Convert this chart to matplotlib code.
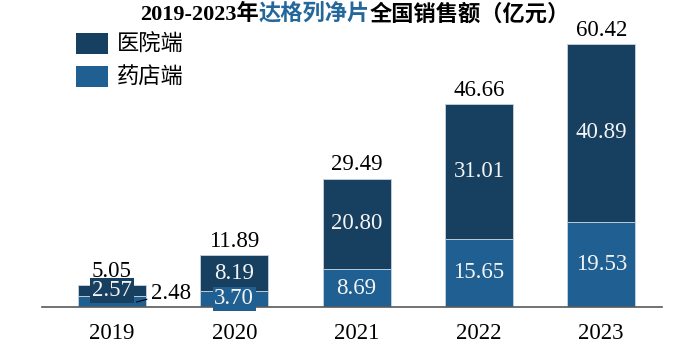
import numpy as np
import matplotlib.pyplot as plt
from matplotlib.patches import Patch

years = ['2019', '2020', '2021', '2022', '2023']
hospital = [2.57, 8.19, 20.80, 31.01, 40.89]
pharmacy = [2.48, 3.70, 8.69, 15.65, 19.53]
totals = [5.05, 11.89, 29.49, 46.66, 60.42]

dark = '#163F60'
mid = '#1F5F92'
title_blue = '#24679B'
num_font = 'Liberation Serif'
cjk = ['Noto Sans CJK SC', 'DejaVu Sans']
title_font = ['Liberation Serif', 'Noto Sans CJK SC']
fs = 16.5

fig = plt.figure(figsize=(6.92, 3.53), dpi=100)
ax = fig.add_axes([42/692, 46/353, 620/692, 283/353])

x = np.arange(len(years))
w = 0.556
ax.bar(x, pharmacy, w, color=mid, edgecolor='#c9d4de', linewidth=0.6, zorder=2)
ax.bar(x, hospital, w, bottom=pharmacy, color=dark, edgecolor='#c9d4de',
       linewidth=0.6, zorder=2)
ax.set_xlim(-0.572, 4.497)
ax.set_ylim(0, 65)

box = lambda c: dict(boxstyle='square,pad=0.08', fc=c, ec='none')
for i in range(len(years)):
    # hospital segment label
    ax.text(x[i], pharmacy[i] + hospital[i] / 2, f'{hospital[i]:.2f}',
            ha='center', va='center', color='#f4f4f4', fontsize=fs,
            family=num_font, bbox=box(dark), zorder=4)
    # pharmacy segment label
    if i == 0:
        ax.annotate(f'{pharmacy[i]:.2f}', xy=(x[i] + 0.2, pharmacy[i] * 0.46),
                    xytext=(25, 6.5), textcoords='offset points',
                    ha='center', va='center', fontsize=fs, family=num_font,
                    color='black',
                    arrowprops=dict(arrowstyle='-', color='black', lw=0.8,
                                    shrinkA=1, shrinkB=0))
    else:
        ax.text(x[i], pharmacy[i] / 2, f'{pharmacy[i]:.2f}',
                ha='center', va='center', color='#f4f4f4', fontsize=fs,
                family=num_font, bbox=box(mid), zorder=4)
    # total
    ax.annotate(f'{totals[i]:.2f}', xy=(x[i], totals[i]), xytext=(0, 6),
                textcoords='offset points', ha='center', va='baseline',
                fontsize=fs, family=num_font, color='black')

ax.set_xticks(x, years, fontfamily=num_font, fontsize=fs)
ax.tick_params(axis='x', length=0, pad=11.5)
ax.set_yticks([])
for s in ['left', 'right', 'top']:
    ax.spines[s].set_visible(False)
ax.spines['bottom'].set_color('#595959')
ax.spines['bottom'].set_linewidth(1.2)
ax.spines['bottom'].set_zorder(3)

# legend
fig.legend(handles=[Patch(fc=dark), Patch(fc=mid)], labels=['医院端', '药店端'],
           loc='upper left', bbox_to_anchor=(76/692, 1 - 33/353),
           frameon=False, prop={'family': cjk, 'size': 16},
           handlelength=1.45, handleheight=1.05, handletextpad=0.4,
           labelspacing=0.45, borderpad=0, borderaxespad=0)

# title in three coloured parts
t1 = fig.text(140/692, 1 - 14/353, '2019-2023年', ha='left', va='center',
              fontsize=16, fontweight='bold', family=title_font, color='black')
t2 = ax.annotate('达格列净片', xy=(1, 0.5), xycoords=t1, ha='left', va='center',
                 fontsize=16, fontweight='bold', family=cjk, color=title_blue,
                 annotation_clip=False)
t3 = ax.annotate('全国销售额（亿元）', xy=(1, 0.5), xycoords=t2, ha='left',
                 va='center', fontsize=16, fontweight='bold', family=cjk,
                 color='black', annotation_clip=False)

fig.savefig('out.png', dpi=100)
